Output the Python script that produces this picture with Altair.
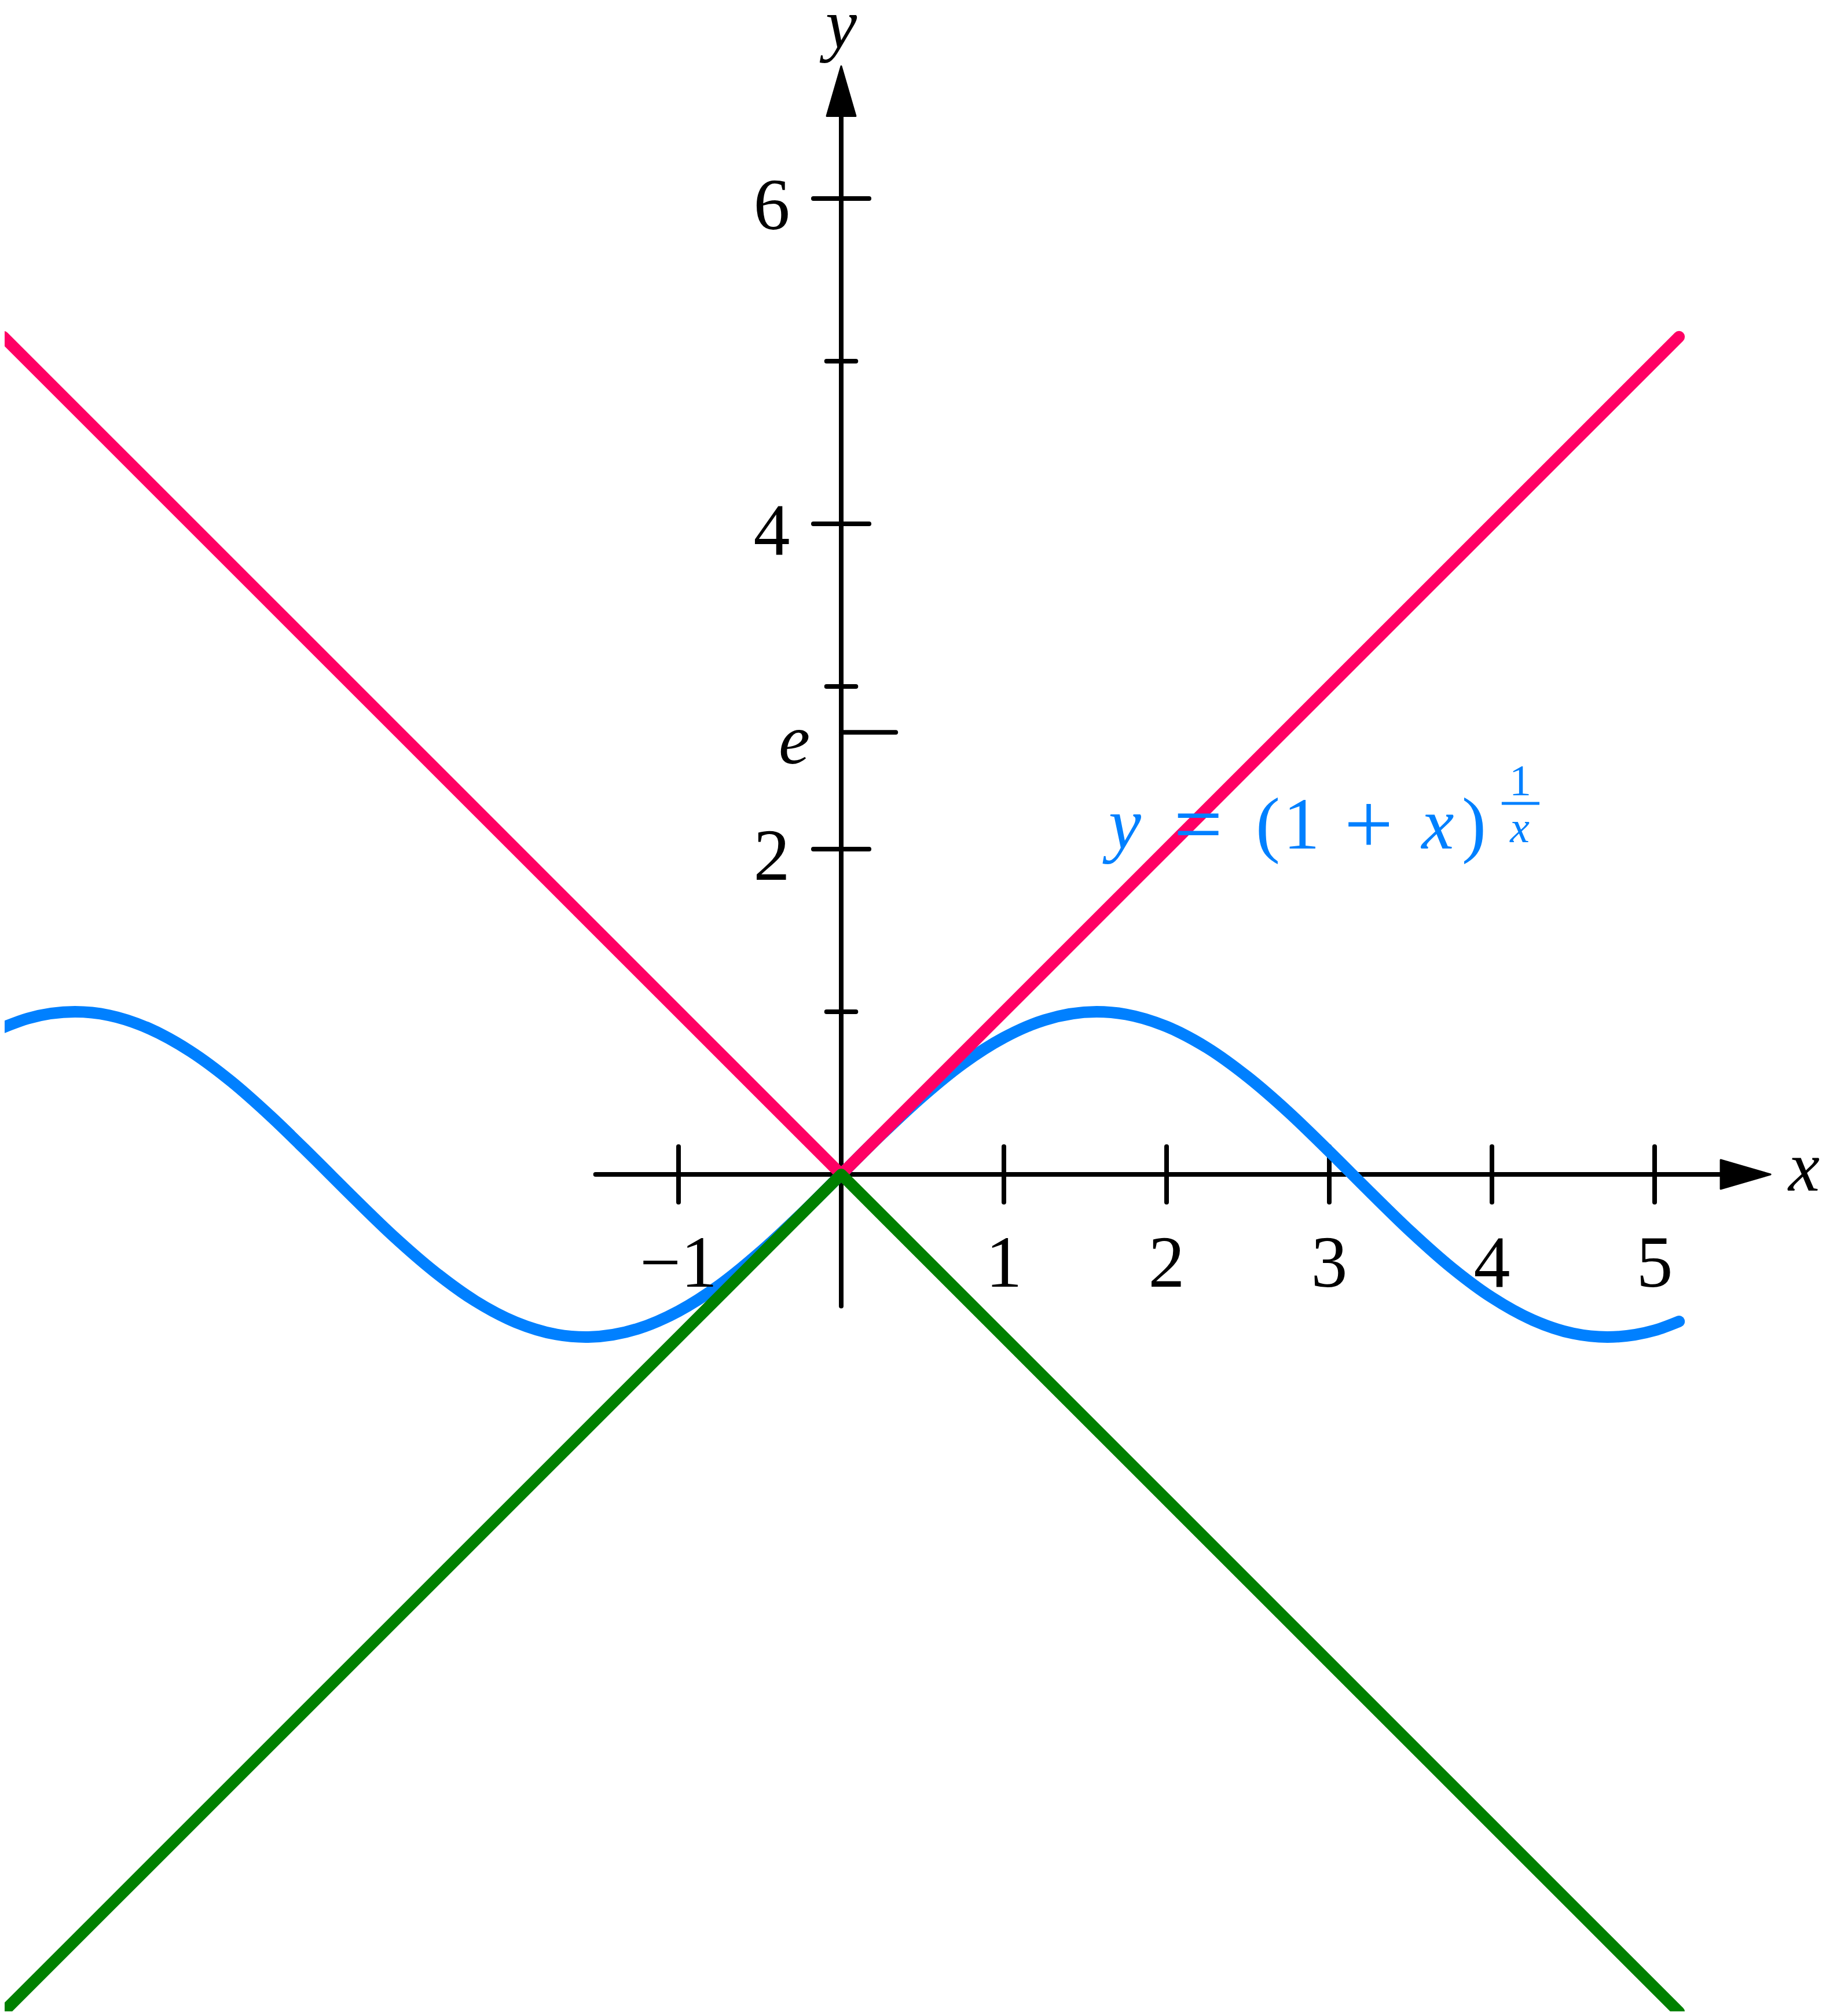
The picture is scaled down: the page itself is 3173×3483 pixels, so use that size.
import altair as alt
import pandas as pd

# ---------------- data ----------------
# straight lines y = |x| (red) and y = -|x| (green)
line_x = [-5.15, 0.0, 5.15]
red_y = [5.15, 0.0, 5.15]
green_y = [-5.15, 0.0, -5.15]

# blue wave
blue_x = [-5.15, -5.0, -4.71, -4.5, -4.25, -4.0, -3.75, -3.5, -3.25, -3.0, -2.75,
          -2.5, -2.25, -2.0, -1.75, -1.57, -1.25, -1.0, -0.75, -0.5, -0.25, 0.0,
          0.25, 0.5, 0.75, 1.0, 1.25, 1.57, 1.75, 2.0, 2.25, 2.5, 2.75, 3.0, 3.25,
          3.5, 3.75, 4.0, 4.25, 4.5, 4.71, 5.0, 5.15]
blue_y = [0.904, 0.959, 1.0, 0.978, 0.895, 0.757, 0.572, 0.351, 0.108, -0.141, -0.382,
          -0.598, -0.778, -0.909, -0.984, -1.0, -0.949, -0.841, -0.682, -0.479, -0.247, 0.0,
          0.247, 0.479, 0.682, 0.841, 0.949, 1.0, 0.984, 0.909, 0.778, 0.598, 0.382, 0.141, -0.108,
          -0.351, -0.572, -0.757, -0.895, -0.978, -1.0, -0.959, -0.904]

# axes
x_axis_range = [-1.51, 5.41]
y_axis_range = [-0.81, 6.51]
x_ticks = [-1, 1, 2, 3, 4, 5]
x_tick_labels = ["\u22121", "1", "2", "3", "4", "5"]
y_major_ticks = [2, 4, 6]
y_major_labels = ["2", "4", "6"]
y_minor_ticks = [1, 3, 5]
e_value = 2.718

RED = "#FF0064"
GREEN = "#008000"
BLUE = "#0080FF"

# ---------------- geometry of the canvas ----------------
S = 281.0             # pixels per unit
OX, OY = 1453.0, 2029.0
W, H = 3157, 3467
XMIN = (8 - OX) / S
XMAX = XMIN + W / S
YMAX = (OY - 8) / S
YMIN = YMAX - H / S

xs = alt.Scale(domain=[XMIN, XMAX], nice=False, zero=False)
ys = alt.Scale(domain=[YMIN, YMAX], nice=False, zero=False)

def X(f="x"):
    return alt.X(f"{f}:Q", scale=xs, axis=None)

def Y(f="y"):
    return alt.Y(f"{f}:Q", scale=ys, axis=None)

FONT = "Liberation Serif"

# ---------------- axes lines and ticks ----------------
rules = [dict(x=x_axis_range[0], x2=x_axis_range[1], y=0, y2=0),
         dict(x=0, x2=0, y=y_axis_range[0], y2=y_axis_range[1])]
tl = 0.171
for t in x_ticks:
    rules.append(dict(x=t, x2=t, y=-tl, y2=tl))
for t in y_major_ticks:
    rules.append(dict(x=-tl, x2=tl, y=t, y2=t))
for t in y_minor_ticks:
    rules.append(dict(x=-0.09, x2=0.09, y=t, y2=t))
rules.append(dict(x=0, x2=0.335, y=e_value, y2=e_value))
rules_df = pd.DataFrame(rules)

axes = alt.Chart(rules_df).mark_rule(color="black", strokeWidth=8, strokeCap="round").encode(
    x=X(), x2="x2:Q", y=Y(), y2="y2:Q")

# arrows
arrow_right = alt.Chart(pd.DataFrame({"x": [5.559], "y": [0.0]})).mark_point(
    shape="M 1 0 L -1 -0.58 L -1 0.58 Z", filled=True, size=7396, color="black",
    opacity=1, stroke="black", strokeWidth=3, strokeJoin="round").encode(x=X(), y=Y())
arrow_up = alt.Chart(pd.DataFrame({"x": [0.0], "y": [6.66]})).mark_point(
    shape="M 0 -1 L -0.58 1 L 0.58 1 Z", filled=True, size=7396, color="black",
    opacity=1, stroke="black", strokeWidth=3, strokeJoin="round").encode(x=X(), y=Y())

# ---------------- curves ----------------
LW = 20
blue = alt.Chart(pd.DataFrame({"x": blue_x, "y": blue_y})).mark_line(
    color=BLUE, strokeWidth=LW, strokeCap="round", interpolate="monotone").encode(x=X(), y=Y())
red = alt.Chart(pd.DataFrame({"x": line_x, "y": red_y})).mark_line(
    color=RED, strokeWidth=LW, strokeCap="round", strokeJoin="round").encode(x=X(), y=Y())
green = alt.Chart(pd.DataFrame({"x": line_x, "y": green_y})).mark_line(
    color=GREEN, strokeWidth=LW, strokeCap="round", strokeJoin="round").encode(x=X(), y=Y())

# ---------------- labels ----------------
xlab_df = pd.DataFrame({"x": x_ticks, "y": [-0.69] * len(x_ticks), "t": x_tick_labels})
ylab_df = pd.DataFrame({"x": [-0.427] * 3, "y": [t - 0.19 for t in y_major_ticks], "t": y_major_labels})
roman_labels = alt.Chart(pd.concat([xlab_df, ylab_df])).mark_text(
    font=FONT, fontSize=126, color="black", align="center", baseline="alphabetic").encode(
    x=X(), y=Y(), text="t:N")

ital_df = pd.DataFrame({"x": [5.918, 0.0, -0.288], "y": [-0.10, 6.925, 2.527], "t": ["x", "y", "e"]})
ital_labels = alt.Chart(ital_df).mark_text(
    font=FONT, fontSize=122, fontStyle="italic", color="black", align="center",
    baseline="alphabetic").encode(x=X(), y=Y(), text="t:N")

# blue formula  y = (1 + x)^(1/x)
f_base = 2.004
f_rom = pd.DataFrame({"x": [2.623, 2.829, 3.890], "y": [f_base] * 3,
                      "t": ["(", "1", ")"]})
f_ops = pd.DataFrame({"x": [2.194, 3.242], "y": [1.975] * 2, "t": ["=", "+"]})
f_it = pd.DataFrame({"x": [1.744, 3.667], "y": [f_base] * 2, "t": ["y", "x"]})
f_rom_c = alt.Chart(f_rom).mark_text(font=FONT, fontSize=126, color=BLUE, align="center",
                                     baseline="alphabetic").encode(x=X(), y=Y(), text="t:N")
f_ops_c = alt.Chart(f_ops).mark_text(font=FONT, fontSize=150, color=BLUE, align="center",
                                     baseline="alphabetic").encode(x=X(), y=Y(), text="t:N")
f_it_c = alt.Chart(f_it).mark_text(font=FONT, fontSize=126, fontStyle="italic", color=BLUE,
                                   align="center", baseline="alphabetic").encode(x=X(), y=Y(), text="t:N")
sup_num = alt.Chart(pd.DataFrame({"x": [4.174], "y": [2.331], "t": ["1"]})).mark_text(
    font=FONT, fontSize=76, color=BLUE, align="center", baseline="alphabetic").encode(
    x=X(), y=Y(), text="t:N")
sup_den = alt.Chart(pd.DataFrame({"x": [4.171], "y": [2.043], "t": ["x"]})).mark_text(
    font=FONT, fontSize=76, fontStyle="italic", color=BLUE, align="center",
    baseline="alphabetic").encode(x=X(), y=Y(), text="t:N")
sup_bar = alt.Chart(pd.DataFrame({"x": [4.060], "x2": [4.292], "y": [2.281], "y2": [2.281]})).mark_rule(
    color=BLUE, strokeWidth=5).encode(x=X(), x2="x2:Q", y=Y(), y2="y2:Q")

chart = alt.layer(
    axes, arrow_right, arrow_up, blue, red, green,
    roman_labels, ital_labels, f_rom_c, f_ops_c, f_it_c, sup_num, sup_den, sup_bar
).properties(
    width=W, height=H, padding=0,
    autosize=alt.AutoSizeParams(type="none"),
    background="white",
).configure_view(stroke=None)

chart.save("out.html", embed_options={"renderer": "svg", "actions": False})
